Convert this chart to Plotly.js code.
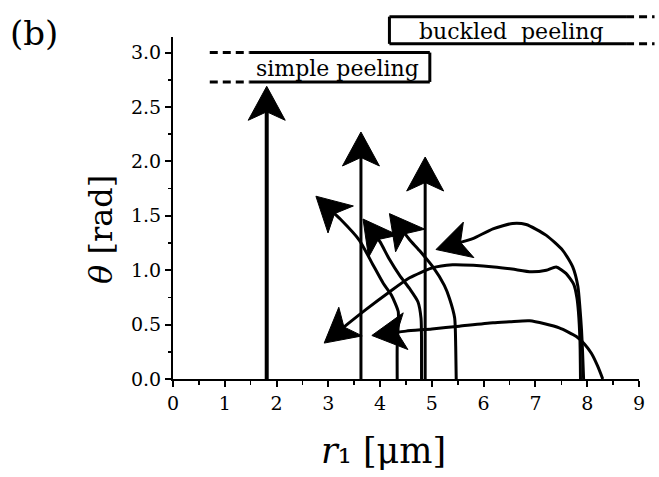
<!DOCTYPE html>
<html><head><meta charset="utf-8">
<script src="https://cdn.plot.ly/plotly-3.0.1.min.js"></script>
<style>html,body{margin:0;padding:0;background:#fff}#chart{width:659px;height:477px}</style>
</head><body><div id="chart"></div>
<script>
// ---------- data ----------
const xTickVals = [0, 1, 2, 3, 4, 5, 6, 7, 8, 9];
const yTickVals = [0, 0.5, 1.0, 1.5, 2.0, 2.5, 3.0];

// straight vertical arrows
const vert1X = [1.81, 1.81], vert1Y = [0, 2.69];
const vert2X = [3.63, 3.63], vert2Y = [0, 2.27];
const vert3X = [4.87, 4.87], vert3Y = [0, 2.04];

// curved arrows rising from the bottom and bending to the upper left
const curvePX = [4.33, 4.33, 4.35, 4.35, 4.22, 4.06, 3.85, 3.60, 3.23, 2.76];
const curvePY = [0, 0.30, 0.50, 0.62, 0.77, 0.88, 1.06, 1.275, 1.47, 1.68];
const curveQX = [4.80, 4.80, 4.79, 4.73, 4.57, 4.38, 4.18, 4.00, 3.67];
const curveQY = [0, 0.35, 0.56, 0.71, 0.83, 0.95, 1.10, 1.26, 1.47];
const curveRX = [5.47, 5.46, 5.44, 5.34, 5.24, 5.02, 4.76, 4.57, 4.18];
const curveRY = [0, 0.30, 0.56, 0.74, 0.86, 1.03, 1.18, 1.28, 1.52];

// long curves starting near r1 = 8
const upperX = [7.93, 7.91, 7.89, 7.86, 7.82, 7.72, 7.53, 7.21, 6.82, 6.56, 6.18, 5.79, 5.08];
const upperY = [0, 0.25, 0.45, 0.65, 0.85, 1.03, 1.18, 1.32, 1.42, 1.43, 1.38, 1.29, 1.19];
const middleX = [7.87, 7.86, 7.83, 7.80, 7.74, 7.59, 7.40, 7.21, 6.92, 6.55, 6.20, 5.80, 5.40, 5.00, 4.57, 4.18, 3.73, 3.28, 2.92];
const middleY = [0, 0.35, 0.62, 0.75, 0.87, 0.97, 1.03, 1.00, 0.985, 1.01, 1.03, 1.045, 1.05, 1.02, 0.93, 0.80, 0.64, 0.47, 0.33];
const lowerX = [8.30, 8.20, 8.08, 7.95, 7.79, 7.46, 6.89, 6.50, 6.18, 5.53, 5.00, 4.50, 3.84];
const lowerY = [0, 0.12, 0.236, 0.32, 0.39, 0.47, 0.535, 0.525, 0.516, 0.485, 0.46, 0.44, 0.40];

// regime boxes: [dash end, solid start, solid end] and [bottom, top]
const simpleBoxX = [0.71, 1.48, 4.96], simpleBoxY = [2.73, 3.0];
const buckledBoxX = [9.30, 8.75, 4.18], buckledBoxY = [3.08, 3.33];
const simpleLabel = 'simple peeling';
const buckledLabel = 'buckled\u00a0 peeling';
const simpleLabelPos = [3.18, 2.855];
const buckledLabelPos = [6.53, 3.195];
const xTitle = '<i>r</i>\u2081 [μm]';
const yTitle = '<i>θ</i> [rad]';
const panelLabel = '(b)';

// ---------- layout constants ----------
const X_RANGE = [0, 9], Y_RANGE = [0, 3.143];
const M = {l: 173, r: 20, t: 37, b: 98};
const W = 659, H = 477;
const PW = W - M.l - M.r, PH = H - M.t - M.b;
const SX = PW / (X_RANGE[1] - X_RANGE[0]);   // px per data unit
const SY = PH / (Y_RANGE[1] - Y_RANGE[0]);
const FONT = 'DejaVu Serif, Liberation Serif, serif';
const px2paperX = p => (p - M.l) / PW;
const px2paperY = p => (H - M.b - p) / PH;
const d2paperX = x => (x - X_RANGE[0]) / (X_RANGE[1] - X_RANGE[0]);
const d2paperY = y => (y - Y_RANGE[0]) / (Y_RANGE[1] - Y_RANGE[0]);

const HEAD = {len: 34, half: 18.5, notch: 8.5};

const arrows = [
  {x: vert1X, y: vert1Y, w: 4},
  {x: vert2X, y: vert2Y, w: 3},
  {x: vert3X, y: vert3Y, w: 3},
  {x: curvePX, y: curvePY, w: 3},
  {x: curveQX, y: curveQY, w: 3},
  {x: curveRX, y: curveRY, w: 3},
  {x: upperX, y: upperY, w: 3},
  {x: middleX, y: middleY, w: 3},
  {x: lowerX, y: lowerY, w: 3}
];

// arrowhead geometry derived from the last segment of each curve
function headGeom(xs, ys) {
  const n = xs.length;
  const tx = xs[n - 1] * SX, ty = ys[n - 1] * SY;
  const bx = xs[n - 2] * SX, by = ys[n - 2] * SY;
  let ux = tx - bx, uy = ty - by;
  const d = Math.hypot(ux, uy); ux /= d; uy /= d;
  const nx = -uy, ny = ux;
  const L = HEAD.len, Wd = HEAD.half, A = HEAD.len - HEAD.notch;
  const poly = [
    [tx, ty],
    [tx - L * ux + Wd * nx, ty - L * uy + Wd * ny],
    [tx - A * ux, ty - A * uy],
    [tx - L * ux - Wd * nx, ty - L * uy - Wd * ny],
    [tx, ty]
  ].map(p => [p[0] / SX, p[1] / SY]);
  const lineEnd = [(tx - (A - 3) * ux) / SX, (ty - (A - 3) * uy) / SY];
  return {poly, lineEnd};
}

const traces = [];
const headX = [], headY = [];
arrows.forEach(a => {
  const g = headGeom(a.x, a.y);
  const lx = a.x.slice(0, -1).concat([g.lineEnd[0]]);
  const ly = a.y.slice(0, -1).concat([g.lineEnd[1]]);
  traces.push({
    type: 'scatter', mode: 'lines', x: lx, y: ly,
    line: {color: '#000', width: a.w, shape: 'spline', smoothing: 0.6},
    hoverinfo: 'skip', showlegend: false
  });
  g.poly.forEach(p => { headX.push(p[0]); headY.push(p[1]); });
  headX.push(null); headY.push(null);
});
traces.push({
  type: 'scatter', mode: 'lines', x: headX, y: headY,
  fill: 'toself', fillcolor: '#000', line: {color: '#000', width: 1},
  connectgaps: false, hoverinfo: 'skip', showlegend: false
});

const annotations = [];
// box labels
annotations.push({
  xref: 'paper', yref: 'paper', x: d2paperX(simpleLabelPos[0]), y: d2paperY(simpleLabelPos[1]),
  text: simpleLabel, showarrow: false, xanchor: 'center', yanchor: 'middle',
  font: {family: FONT, size: 22, color: '#000'}
});
annotations.push({
  xref: 'paper', yref: 'paper', x: d2paperX(buckledLabelPos[0]), y: d2paperY(buckledLabelPos[1]),
  text: buckledLabel, showarrow: false, xanchor: 'center', yanchor: 'middle',
  font: {family: FONT, size: 22, color: '#000'}
});
// panel label and axis titles
annotations.push({
  xref: 'paper', yref: 'paper', x: px2paperX(34), y: px2paperY(33),
  text: panelLabel, showarrow: false, xanchor: 'center', yanchor: 'middle',
  font: {family: FONT, size: 34, color: '#000'}
});
annotations.push({
  xref: 'paper', yref: 'paper', x: px2paperX(101), y: px2paperY(230),
  text: yTitle, textangle: -90, showarrow: false, xanchor: 'center', yanchor: 'middle',
  font: {family: FONT, size: 32, color: '#000'}
});
annotations.push({
  xref: 'paper', yref: 'paper', x: px2paperX(383), y: px2paperY(451),
  text: xTitle, showarrow: false, xanchor: 'center', yanchor: 'middle',
  font: {family: FONT, size: 35, color: '#000'}
});

function seg(x0, y0, x1, y1, dash) {
  return {type: 'line', xref: 'paper', yref: 'paper',
    x0: d2paperX(x0), y0: d2paperY(y0), x1: d2paperX(x1), y1: d2paperY(y1),
    line: {color: '#000', width: 3, dash: dash || 'solid'}};
}
const DASH = '8px,5px';
const shapes = [];
// simple peeling box (open dashed to the left)
simpleBoxY.forEach(y => {
  shapes.push(seg(simpleBoxX[0], y, simpleBoxX[1], y, DASH));
  shapes.push(seg(simpleBoxX[1], y, simpleBoxX[2], y));
});
shapes.push(seg(simpleBoxX[2], simpleBoxY[0], simpleBoxX[2], simpleBoxY[1]));
// buckled peeling box (open dashed to the right)
buckledBoxY.forEach(y => {
  shapes.push(seg(buckledBoxX[1], y, buckledBoxX[0], y, DASH));
  shapes.push(seg(buckledBoxX[2], y, buckledBoxX[1], y));
});
shapes.push(seg(buckledBoxX[2], buckledBoxY[0], buckledBoxX[2], buckledBoxY[1]));

const axisCommon = {
  showgrid: false, zeroline: false, showline: true, linecolor: '#000', linewidth: 2,
  ticks: 'outside', ticklen: 6, tickwidth: 2, tickcolor: '#000',
  tickfont: {family: FONT, size: 19, color: '#000'}, fixedrange: true
};

const layout = {
  width: W, height: H, margin: M,
  paper_bgcolor: '#fff', plot_bgcolor: '#fff',
  showlegend: false,
  xaxis: Object.assign({}, axisCommon, {
    range: X_RANGE, tickmode: 'array', tickvals: xTickVals, ticktext: xTickVals.map(String),
    minor: {dtick: 0.5, ticks: 'outside', ticklen: 3.5, tickwidth: 1.5, tickcolor: '#000', showgrid: false}
  }),
  yaxis: Object.assign({}, axisCommon, {
    range: Y_RANGE, tickmode: 'array', tickvals: yTickVals, ticktext: yTickVals.map(v => v.toFixed(1)),
    minor: {dtick: 0.25, ticks: 'outside', ticklen: 3.5, tickwidth: 1.5, tickcolor: '#000', showgrid: false}
  }),
  annotations: annotations,
  shapes: shapes
};

Plotly.newPlot('chart', traces, layout, {staticPlot: true, displayModeBar: false});
</script>
</body></html>
